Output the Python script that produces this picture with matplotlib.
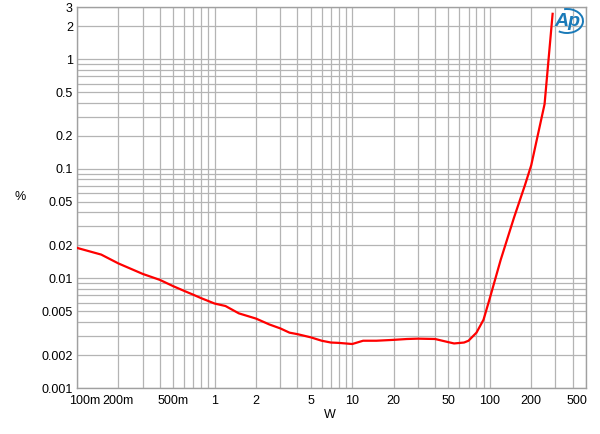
import matplotlib
matplotlib.use("Agg")
import matplotlib.pyplot as plt
from matplotlib.ticker import FixedLocator, LogLocator, NullFormatter
from matplotlib.patches import Arc
from matplotlib.transforms import ScaledTranslation
import numpy as np

plt.rcParams['font.family'] = ['Liberation Sans', 'DejaVu Sans']

# THD+N vs output power
power_w = [0.1, 0.15, 0.2, 0.3, 0.4, 0.5, 0.6, 0.7, 0.8, 1.0, 1.2, 1.5, 2.0, 2.5,
           3.0, 3.5, 4.0, 5.0, 6.0, 7.0, 8.0, 10.0, 12.0, 15.0, 20.0, 25.0, 30.0,
           40.0, 50.0, 55.0, 65.0, 70.0, 80.0, 90.0, 100.0, 120.0, 150.0, 180.0,
           200.0, 250.0, 286.0]
thd_pct = [0.019, 0.0165, 0.0137, 0.011, 0.0097, 0.0085, 0.0077, 0.0071, 0.0066,
           0.0059, 0.0056, 0.0048, 0.0043, 0.0038, 0.0035, 0.0032, 0.0031, 0.0029,
           0.0027, 0.0026, 0.00258, 0.00252, 0.0027, 0.0027, 0.00275, 0.0028,
           0.00282, 0.0028, 0.00262, 0.00255, 0.0026, 0.0027, 0.0032, 0.0042,
           0.0066, 0.0148, 0.036, 0.071, 0.108, 0.39, 2.6]

x_ticks = [0.1, 0.2, 0.5, 1, 2, 5, 10, 20, 50, 100, 200, 500]
x_labels = ["100m", "200m", "500m", "1", "2", "5", "10", "20", "50", "100", "200", "500"]
y_ticks = [0.001, 0.002, 0.005, 0.01, 0.02, 0.05, 0.1, 0.2, 0.5, 1, 2, 3]
y_labels = ["0.001", "0.002", "0.005", "0.01", "0.02", "0.05", "0.1", "0.2", "0.5", "1", "2", "3"]

fig = plt.figure(figsize=(6.0, 4.34), dpi=100)
ax = fig.add_axes([77 / 600, 46 / 434, 509 / 600, 381 / 434])

ax.plot(power_w, thd_pct, color="#ff0000", lw=1.6, zorder=3)

ax.set_xscale("log")
ax.set_yscale("log")
ax.set_xlim(0.1, 500)
ax.set_ylim(0.001, 3)

ax.xaxis.set_major_locator(FixedLocator(x_ticks))
ax.set_xticklabels(x_labels)
ax.xaxis.set_minor_locator(LogLocator(base=10, subs=np.arange(1, 10), numticks=20))
ax.xaxis.set_minor_formatter(NullFormatter())
ax.yaxis.set_major_locator(FixedLocator(y_ticks))
ax.set_yticklabels(y_labels)
ax.yaxis.set_minor_locator(LogLocator(base=10, subs=np.arange(1, 10), numticks=20))
ax.yaxis.set_minor_formatter(NullFormatter())

ax.grid(True, which="both", color="#b4b4b4", lw=0.9)
ax.tick_params(which="both", length=0, labelsize=9, colors="black")
ax.tick_params(axis="x", pad=5)
ax.tick_params(axis="y", pad=3)
for s in ax.spines.values():
    s.set_color("#a0a0a0")
    s.set_linewidth(1.0)

# end labels nudged inward like the analyzer output
xl = ax.get_xticklabels()
xl[0].set_transform(xl[0].get_transform() + ScaledTranslation(8 / 100, 0, fig.dpi_scale_trans))
xl[-1].set_transform(xl[-1].get_transform() + ScaledTranslation(-9 / 100, 0, fig.dpi_scale_trans))

fig.text(20 / 600, 1 - 197 / 434, "%", fontsize=9, ha="center", va="center")
fig.text(330 / 600, 1 - 415 / 434, "W", fontsize=9, ha="center", va="center")

# AP logo
fig.text(567 / 600, 1 - 22 / 434, "Ap", fontsize=14, color="#1a7ab8", style="italic",
         ha="center", va="center", fontweight="bold")
logo = Arc((567 / 600, 1 - 21 / 434), 32 / 600, 24 / 434, theta1=-120, theta2=100,
           transform=fig.transFigure, color="#1a7ab8", lw=1.4)
fig.add_artist(logo)

fig.savefig("out.png", dpi=100)
